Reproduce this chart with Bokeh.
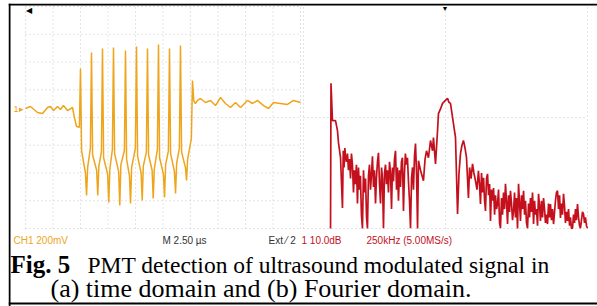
from bokeh.plotting import figure
from bokeh.models import Range1d, Label, Span
from bokeh.embed import file_html
from bokeh.resources import INLINE

# ---------------- data ----------------
# (a) time domain: time (us), voltage (V)
time_us = [0.0, 0.45, 1.09, 1.55, 2.0, 2.27, 2.55, 2.91, 3.18, 3.45, 3.82, 4.27, 4.45, 4.64, 4.9,
           5.0, 5.1, 5.45, 5.55, 5.65, 5.9, 6.0, 6.1, 6.47, 6.57, 6.67, 6.9, 7.0, 7.1, 7.47, 7.57, 7.67,
           7.9, 8.0, 8.1, 8.47, 8.57, 8.67, 8.99, 9.09, 9.19, 9.45, 9.55, 9.65, 9.99, 10.09, 10.19,
           10.51, 10.61, 10.71, 10.99, 11.09, 11.19, 11.51, 11.61, 11.71, 11.99, 12.09, 12.19,
           12.54, 12.64, 12.74, 12.99, 13.09, 13.19, 13.54, 13.64, 13.74, 13.99, 14.09, 14.19,
           14.54, 14.64, 14.74, 15.08, 15.18, 15.3,
           15.45, 15.64, 15.91, 16.36, 16.82, 17.27, 17.73, 18.18, 18.64, 19.09, 19.55, 20.18,
           20.64, 21.09, 21.64, 22.09, 22.55, 23.18, 23.82, 24.36, 25.0]
volt_v = [0.065, 0.079, 0.036, 0.029, 0.072, 0.079, 0.050, 0.079, 0.058, 0.086, 0.050, 0.072, 0.0, -0.065, -0.07,
          0.353, -0.24, -0.40, -0.562, -0.36, -0.22, 0.468, -0.27, -0.38, -0.562, -0.35, -0.25, 0.497, -0.29,
          -0.41, -0.613, -0.37, -0.23, 0.505, -0.26, -0.39, -0.634, -0.34, -0.24, 0.483, -0.30, -0.42, -0.620,
          -0.36, -0.22, 0.512, -0.28, -0.40, -0.598, -0.35, -0.25, 0.497, -0.27, -0.38, -0.584, -0.37,
          -0.23, 0.526, -0.29, -0.41, -0.577, -0.34, -0.24, 0.497, -0.26, -0.39, -0.548, -0.33, -0.22,
          0.519, -0.25, -0.36, -0.454, -0.30, -0.15, 0.267, 0.12,
          0.101, 0.123, 0.137, 0.108, 0.123, 0.086, 0.144, 0.101, 0.072, 0.108, 0.072, 0.123,
          0.101, 0.123, 0.086, 0.065, 0.108, 0.101, 0.094, 0.123, 0.108]

# (b) Fourier domain: frequency (MHz), magnitude (dB)
freq_mhz = [0.238, 0.242, 0.255, 0.282, 0.299, 0.308, 0.326, 0.343, 0.350, 0.357, 0.364, 0.370, 0.378,
            0.387, 0.396, 0.405, 0.414, 0.422, 0.431, 0.440, 0.448, 0.457, 0.466, 0.475, 0.484, 0.492,
            0.501, 0.510, 0.519, 0.528, 0.537, 0.546, 0.555, 0.563, 0.572, 0.581, 0.590, 0.599, 0.607,
            0.616, 0.625, 0.634, 0.642, 0.651, 0.660, 0.669, 0.678, 0.687, 0.695, 0.704, 0.713, 0.722,
            0.730, 0.739, 0.748, 0.757, 0.766, 0.775, 0.783, 0.792, 0.801, 0.810, 0.819, 0.827, 0.836,
            0.845, 0.854, 0.862, 0.871, 0.880, 0.889, 0.897, 0.906, 0.915, 0.924, 0.933, 0.942, 0.951,
            0.960, 0.968, 0.977, 0.986, 0.995, 1.004, 1.012, 1.030, 1.056, 1.070, 1.083, 1.100, 1.118,
            1.136, 1.144, 1.162, 1.180, 1.188, 1.205, 1.224, 1.245, 1.268, 1.280, 1.294, 1.320, 1.338,
            1.356, 1.369, 1.382, 1.395, 1.408, 1.422, 1.435, 1.452, 1.462, 1.475, 1.488, 1.500, 1.514,
            1.527, 1.540, 1.549, 1.558, 1.567, 1.576, 1.585, 1.594, 1.602, 1.611, 1.620, 1.629, 1.638,
            1.646, 1.655, 1.664, 1.673, 1.682, 1.690, 1.699, 1.708, 1.717, 1.726, 1.734, 1.743, 1.752,
            1.761, 1.770, 1.778, 1.787, 1.796, 1.805, 1.814, 1.822, 1.831, 1.840, 1.849, 1.858, 1.866,
            1.875, 1.884, 1.893, 1.902, 1.910, 1.919, 1.928, 1.937, 1.946, 1.954, 1.963, 1.972, 1.981,
            1.990, 1.998, 2.007, 2.016, 2.025, 2.034, 2.042, 2.051, 2.060, 2.069, 2.078, 2.086, 2.095,
            2.104, 2.113, 2.122, 2.130, 2.139, 2.148, 2.157, 2.166, 2.174, 2.183, 2.192, 2.201, 2.210,
            2.218, 2.227, 2.236, 2.245, 2.254, 2.262, 2.271, 2.280, 2.289, 2.298, 2.306, 2.315, 2.324,
            2.333, 2.342, 2.350, 2.359, 2.368, 2.377, 2.386, 2.394, 2.403, 2.412, 2.421, 2.430, 2.438,
            2.447, 2.456, 2.465, 2.474, 2.482, 2.491, 2.500]
mag_db = [-40.0, 12.3, -1.1, -1.1, -4.7, -9.1, -14.5, -32.6, -12.0, -18.0, -11.0, -14.0, -16.0,
          -13.0, -19.0, -15.0, -22.0, -13.0, -17.0, -27.0, -19.0, -24.0, -17.0, -31.0, -18.0, -26.0,
          -21.0, -35.0, -40.0, -19.0, -27.0, -22.0, -36.0, -40.0, -21.0, -17.0, -26.0, -20.0, -14.0,
          -25.0, -19.0, -31.0, -22.0, -16.0, -12.7, -24.0, -31.0, -18.0, -22.0, -39.9, -20.0, -17.0,
          -24.0, -19.0, -27.0, -16.0, -20.0, -33.0, -18.0, -23.0, -15.0, -12.0, -26.0, -18.0, -30.0,
          -19.0, -25.0, -16.0, -14.5, -33.7, -20.0, -13.0, -17.0, -14.5, -23.0, -30.0, -39.9, -22.0,
          -18.0, -26.0, -14.0, -9.4, -20.0, -40.0, -15.6, -19.0, -22.8, -15.0, -12.0, -14.5, -8.3,
          -12.0, -7.2, -16.7, -4.7, 1.4, 3.0, 5.1, 6.0, 6.9, 5.5, 5.1, -2.2, -7.2,
          -34.8, -20.0, -13.0, -10.0, -8.3, -11.0, -14.5, -29.0, -18.0, -22.0, -16.7, -20.0, -22.8,
          -26.0, -19.2, -24.0, -31.2, -20.0, -27.0, -21.7, -30.0, -33.7, -22.0, -20.3, -28.0, -24.0,
          -37.3, -26.0, -30.0, -25.4, -35.0, -28.0, -33.0, -31.2, -26.0, -38.0, -39.9, -29.0, -35.0,
          -27.0, -33.0, -23.9, -30.0, -38.4, -28.0, -34.0, -26.4, -31.0, -37.0, -33.7, -27.0, -36.0,
          -29.0, -40.0, -23.9, -31.0, -37.3, -28.0, -33.0, -26.4, -35.0, -30.0, -38.0, -39.9, -31.0,
          -36.0, -29.0, -34.0, -27.0, -38.4, -30.0, -35.0, -33.0, -39.0, -27.5, -32.0, -37.3, -30.0,
          -36.0, -29.0, -33.0, -38.0, -35.0, -38.4, -31.0, -36.0, -31.2, -37.0, -33.0, -38.4, -34.0,
          -30.0, -27.0, -26.4, -33.0, -28.0, -36.2, -31.0, -35.0, -27.5, -32.0, -38.0, -34.0, -37.3,
          -33.0, -39.0, -36.0, -40.0, -39.9, -35.0, -38.0, -33.0, -37.0, -31.2, -36.0, -39.0, -39.9,
          -37.0, -34.0, -34.8, -38.0, -36.0, -39.0, -39.9]

# graticule ticks
time_ticks = [0, 2.5, 5, 7.5, 10, 12.5, 15, 17.5, 20, 22.5, 25]
volt_ticks = [-0.8, -0.6, -0.4, -0.2, 0.0, 0.2, 0.4, 0.6, 0.8]
freq_ticks = [0, 1.25, 2.5]
db_ticks = [0, -40]

# ---------------- layout ----------------
W, H = 589, 303
p = figure(width=W, height=H, output_backend="svg", toolbar_location=None,
           x_range=Range1d(0, W), y_range=Range1d(H, 0), min_border=0,
           x_axis_type=None, y_axis_type=None)
p.margin = (3, 0, 0, 8)
p.grid.visible = False
p.outline_line_color = None
p.background_fill_color = "white"

# panel (a): t=0 at px 17, 11 px/us ; V=0 at px 114, 138.75 px/V
ta0, tas = 17, 11.0
va0, vas = 114, 138.75
p.extra_x_ranges["t"] = Range1d(-ta0 / tas, (W - ta0) / tas)
p.extra_y_ranges["v"] = Range1d(-(H - va0) / vas, va0 / vas)
# panel (b): f=0 at px 295, 113.6 px/MHz ; dB=0 at px 114, 2.775 px/dB
fa0, fas = 295, 113.6
da0, das = 114, 2.775
p.extra_x_ranges["f"] = Range1d(-fa0 / fas, (W - fa0) / fas)
p.extra_y_ranges["d"] = Range1d(-(H - da0) / das, da0 / das)

gcol = "#c9c9c9"
# graticule (a)
p.multi_line(xs=[[t, t] for t in time_ticks], ys=[[volt_ticks[0], volt_ticks[-1]]] * len(time_ticks),
             x_range_name="t", y_range_name="v", line_color=gcol, line_dash="1 3", line_width=1)
p.multi_line(xs=[[time_ticks[0], time_ticks[-1]]] * len(volt_ticks), ys=[[v, v] for v in volt_ticks],
             x_range_name="t", y_range_name="v", line_color=gcol, line_dash="1 3", line_width=1)
# graticule (b)
p.multi_line(xs=[[f, f] for f in freq_ticks], ys=[[-40, 40]] * len(freq_ticks),
             x_range_name="f", y_range_name="d", line_color=gcol, line_dash="1 3", line_width=1)
p.multi_line(xs=[[freq_ticks[0], freq_ticks[-1]]] * len(db_ticks), ys=[[d, d] for d in db_ticks],
             x_range_name="f", y_range_name="d", line_color=gcol, line_dash="1 3", line_width=1)

# traces
p.line(time_us, volt_v, x_range_name="t", y_range_name="v", line_color="#eea51c", line_width=1.5)
p.line(freq_mhz, mag_db, x_range_name="f", y_range_name="d", line_color="#c4101c", line_width=1.7)

# border (left, top, bottom)
p.add_layout(Span(location=1, dimension="height", line_color="black", line_width=2))
for loc in [1, 300]:
    p.add_layout(Span(location=loc, dimension="width", line_color="black", line_width=2))

# scope labels
sf = "Liberation Sans"
def lab(x, y, text, color, size="10px", font=sf, style="normal", baseline="alphabetic"):
    p.add_layout(Label(x=x, y=y, text=text, text_color=color, text_font_size=size,
                       text_font=font, text_font_style=style, text_baseline=baseline))

lab(5, 237, "CH1  200mV", "#eea51c")
lab(154, 237, "M 2.50 µs", "#333333")
lab(260, 237, "Ext ⁄ 2", "#333333")
lab(293, 237, "1 10.0dB", "#c4101c")
lab(358, 237, "250kHz (5.00MS/s)", "#c4101c")
lab(5, 105, "1▸", "#eea51c", size="9px", baseline="middle")
lab(17, 7, "◀", "black", size="8px", baseline="middle")
lab(433, 5, "▼", "black", size="7px", baseline="middle")

# caption
cf = "Liberation Serif"
lab(2, 261, "Fig. 5", "black", size="25px", font=cf, style="bold")
lab(79, 261, "PMT detection of ultrasound modulated signal in", "black", size="23.5px", font=cf)
lab(42, 285, "(a) time domain and (b) Fourier domain.", "black", size="26px", font=cf)

open("out.html", "w").write(file_html(p, INLINE))
